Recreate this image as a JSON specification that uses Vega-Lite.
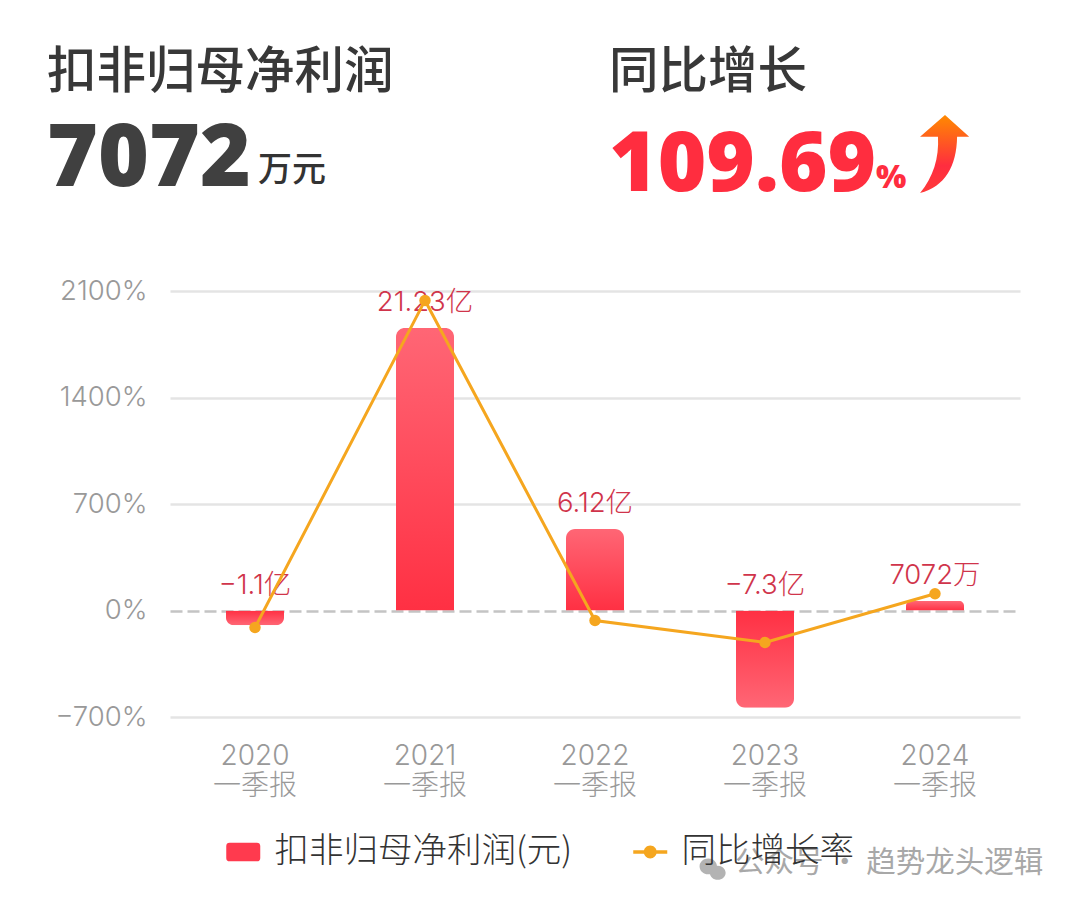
{
"$schema":"https://vega.github.io/schema/vega-lite/v6.json",
"width":1080,"height":906,"padding":0,
"autosize":{"type":"fit","contains":"padding"},
"background":"#ffffff",
"config":{"view":{"stroke":null},"font":"Noto Sans CJK SC"},
"datasets":{
"summary":[
{"block":"left","line":"title","role":"title","text":"扣非归母净利润"},
{"block":"right","line":"title","role":"title","text":"同比增长"},
{"block":"left","line":"metric","role":"leftValue","text":"7072"},
{"block":"left","line":"metric","role":"leftUnit","text":"万元"},
{"block":"right","line":"metric","role":"rightValue","text":"109.69"},
{"block":"right","line":"metric","role":"rightUnit","text":"%"},
{"block":"right","line":"metric","role":"arrow","text":"up"},
{"block":"right","line":"metric","role":"watermark","text":"公众号 · 趋势龙头逻辑"}
],
"quarters":[
{"period":"2020 一季报","profit":-110000000,"growth":-112,"label":"−1.1亿","series":"同比增长率"},
{"period":"2021 一季报","profit":2123000000,"growth":2038,"label":"21.23亿","series":"同比增长率"},
{"period":"2022 一季报","profit":612000000,"growth":-66,"label":"6.12亿","series":"同比增长率"},
{"period":"2023 一季报","profit":-730000000,"growth":-210,"label":"−7.3亿","series":"同比增长率"},
{"period":"2024 一季报","profit":70720000,"growth":109.69,"label":"7072万","series":"同比增长率"}
]},
"layer":[
{"data":{"name":"summary"},
"encoding":{
"x":{"field":"block","type":"nominal","axis":null,"scale":{"type":"point","domain":["left","right"],"range":[47,609],"padding":0}},
"y":{"field":"line","type":"nominal","axis":null,"scale":{"type":"point","domain":["title","metric"],"range":[73,160],"padding":0}}},
"layer":[
{"transform":[{"filter":"datum.role==='title'"}],
"mark":{"type":"text","align":"left","baseline":"middle","fontSize":49.5,"fontWeight":500,"color":"#383838"},
"encoding":{"text":{"field":"text"}}},
{"transform":[{"filter":"datum.role==='leftValue'"}],
"mark":{"type":"text","align":"left","baseline":"middle","font":"Open Sans","fontSize":87,"fontWeight":800,"color":"#404040","dy":0},
"encoding":{"text":{"field":"text"}}},
{"transform":[{"filter":"datum.role==='leftUnit'"}],
"mark":{"type":"text","align":"left","baseline":"middle","fontSize":34,"fontWeight":500,"color":"#333333","dx":211,"dy":11},
"encoding":{"text":{"field":"text"}}},
{"transform":[{"filter":"datum.role==='rightValue'"}],
"mark":{"type":"text","align":"left","baseline":"middle","font":"Open Sans","fontSize":83,"fontWeight":800,"color":"#ff2d3f","dx":0,"dy":6},
"encoding":{"text":{"field":"text"}}},
{"transform":[{"filter":"datum.role==='rightUnit'"}],
"mark":{"type":"text","align":"left","baseline":"middle","font":"Open Sans","fontSize":32,"fontWeight":800,"color":"#ff2d3f","dx":267,"dy":18},
"encoding":{"text":{"field":"text"}}},
{"transform":[{"filter":"datum.role==='arrow'"}],
"mark":{"type":"point","filled":true,"opacity":1,"strokeWidth":0,"size":6084,"xOffset":336,"yOffset":-6,
"shape":"M0,-1L0.62,-0.44L0.31,-0.44C0.3,0.3 0,0.85 -0.64,1C-0.3,0.6 -0.15,0.1 -0.18,-0.44L-0.64,-0.44Z",
"fill":{"gradient":"linear","x1":0,"y1":0,"x2":0,"y2":1,"stops":[{"offset":0,"color":"#ff8a00"},{"offset":0.65,"color":"#ff2d3f"},{"offset":1,"color":"#ff3a3a"}]}}},
{"transform":[{"filter":"datum.role==='watermark'"}],
"mark":{"type":"text","align":"left","baseline":"middle","fontSize":29.5,"color":"#a8a8a8","dx":126,"dy":703},
"encoding":{"text":{"field":"text"}}},
{"transform":[{"filter":"datum.role==='watermark'"}],
"mark":{"type":"point","filled":true,"opacity":0.75,"strokeWidth":0,"size":1000,"color":"#9a9a9a","xOffset":104,"yOffset":708,
"shape":"M-0.85,-0.1A0.55,0.5 0 1 1 0.25,-0.1A0.55,0.5 0 1 1 -0.85,-0.1Z M-0.2,0.3A0.5,0.45 0 1 1 0.8,0.3A0.5,0.45 0 1 1 -0.2,0.3Z"}}
]},
{"data":{"name":"quarters"},
"resolve":{"scale":{"y":"independent"}},
"encoding":{"x":{"field":"period","type":"nominal",
"scale":{"type":"band","padding":0,"range":[170,1020],"domain":["2020 一季报","2021 一季报","2022 一季报","2023 一季报","2024 一季报"]},
"axis":{"title":null,"orient":"bottom","offset":-164,"domain":false,"ticks":false,"grid":false,"labelAngle":0,"labelPadding":0,"labelFont":"Inter, Noto Sans CJK SC","labelFontSize":28,"labelFontWeight":300,"labelColor":"#999999","labelLineHeight":30,"labelExpr":"split(datum.label,' ')"}}},
"layer":[
{"encoding":{"y":{"field":"profit","type":"quantitative","axis":null,"scale":{"domain":[-800000000,2400000000],"range":[717,291],"nice":false,"zero":false}}},
"layer":[
{"transform":[{"filter":"datum.profit>=0"}],
"mark":{"type":"bar","width":58,"cornerRadiusTopLeft":9,"cornerRadiusTopRight":9,
"fill":{"gradient":"linear","x1":0,"y1":0,"x2":0,"y2":1,"stops":[{"offset":0,"color":"#ff6675"},{"offset":1,"color":"#ff3043"}]}}},
{"transform":[{"filter":"datum.profit<0"}],
"mark":{"type":"bar","width":58,"cornerRadiusBottomLeft":9,"cornerRadiusBottomRight":9,
"fill":{"gradient":"linear","x1":0,"y1":0,"x2":0,"y2":1,"stops":[{"offset":0,"color":"#ff3043"},{"offset":1,"color":"#ff6675"}]}}},
{"transform":[{"filter":"datum.profit>=0"}],
"mark":{"type":"text","font":"Inter, Noto Sans CJK SC","fontSize":27.5,"fontWeight":300,"color":"#d0344b","baseline":"middle","dy":-25},
"encoding":{"text":{"field":"label"}}},
{"transform":[{"filter":"datum.profit<0"}],
"mark":{"type":"text","font":"Inter, Noto Sans CJK SC","fontSize":27.5,"fontWeight":300,"color":"#d0344b","baseline":"middle","dy":-25},
"encoding":{"y":{"datum":0},"text":{"field":"label"}}}
]},
{"encoding":{"y":{"field":"growth","type":"quantitative",
"scale":{"domain":[-700,2100],"range":[717,291],"nice":false,"zero":false},
"axis":{"title":null,"orient":"left","offset":-147,"values":[-700,0,700,1400,2100],"domain":false,"ticks":false,"labelPadding":0,"labelFont":"Inter, Noto Sans CJK SC","labelFontSize":27.5,"labelFontWeight":300,"labelColor":"#999999","labelExpr":"replace(datum.value+'%','-','−')","grid":true,"gridWidth":2.5,
"gridColor":{"condition":{"test":"datum.value===0","value":"#c4c4c4"},"value":"#e4e4e4"},
"gridDash":{"condition":{"test":"datum.value===0","value":[12,5]},"value":[]}}}},
"layer":[
{"mark":{"type":"line","strokeWidth":3},
"encoding":{"color":{"field":"series","type":"nominal","scale":{"domain":["扣非归母净利润(元)","同比增长率"],"range":["#ff3a4e","#f5a61f"]},
"legend":{"title":null,"orient":"none","legendX":226,"legendY":830,"direction":"horizontal","columns":2,"columnPadding":60,"labelFontSize":34.5,"labelFontWeight":300,"labelColor":"#333333","labelLimit":400,"labelOffset":14,"symbolSize":1156,"symbolStrokeWidth":0,"clipHeight":44,
"encode":{"symbols":{"update":{
"shape":{"signal":"datum.value==='同比增长率'?'M-1,-0.1H1V0.1H-1Z M0.38,0A0.38,0.38 0 1 1 -0.38,0A0.38,0.38 0 1 1 0.38,0Z':'M-0.8,-0.55H0.8Q1,-0.55 1,-0.35V0.35Q1,0.55 0.8,0.55H-0.8Q-1,0.55 -1,0.35V-0.35Q-1,-0.55 -0.8,-0.55Z'"},
"fill":{"signal":"datum.value==='同比增长率'?'#f5a61f':'#ff3a4e'"},
"stroke":{"value":"transparent"},"opacity":{"value":1}}}}}}}},
{"mark":{"type":"point","filled":true,"opacity":1,"size":130,"color":"#f5a61f"}}
]}
]}
],
"resolve":{"scale":{"x":"independent","y":"independent"}}
}
